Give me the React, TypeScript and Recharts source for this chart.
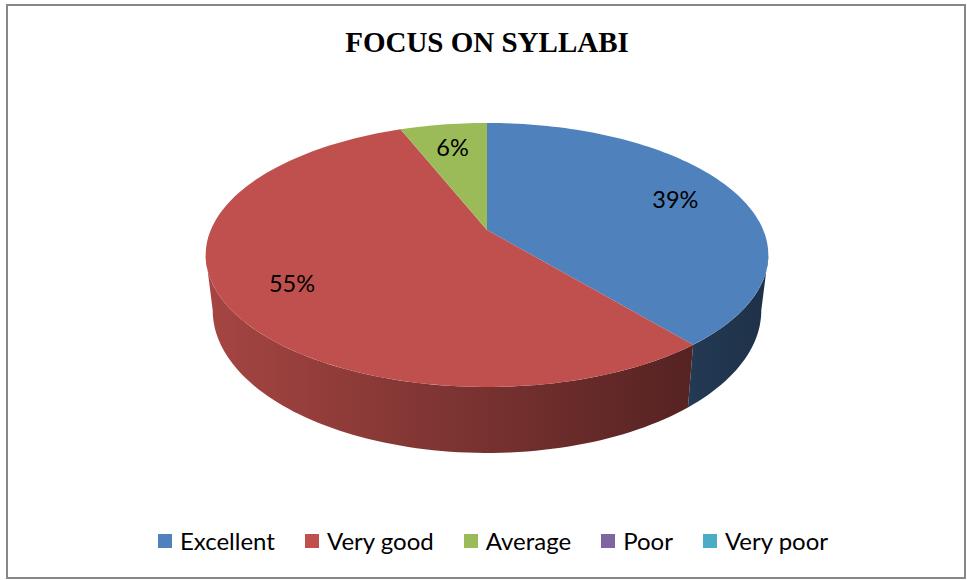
import { Legend, Pie, PieChart } from "recharts";

const categories = ["Excellent", "Very good", "Average", "Poor", "Very poor"];
const percentages = [39, 55, 6, 0, 0];
const colors = ["#4f81bd", "#c0504d", "#9bbb59", "#8064a2", "#4bacc6"];

const data = categories.map((name, i) => ({ name, value: percentages[i] }));

const W = 967;
const H = 580;

// 3d look: tilted disc seen in perspective
const ASPECT = 2.17;
const PERSPECTIVE = 0.189;
const DEPTH = 53.5;
const BOTTOM_SHRINK = 0.975;
const LABEL_R = 0.76;
const WALL_FROM = 90 + (Math.asin(PERSPECTIVE) * 180) / Math.PI;
const WALL_TO = 360 - WALL_FROM;

function shade(hex: string, f: number) {
  const n = parseInt(hex.slice(1), 16);
  const ch = [(n >> 16) & 255, (n >> 8) & 255, n & 255].map((c) =>
    Math.round(c * f)
  );
  return `rgb(${ch.join(",")})`;
}

// theta: degrees clockwise from 12 o'clock, r: 0..1 of the radius
function project(
  cx: number,
  cy: number,
  R: number,
  theta: number,
  r: number,
  bottom = false
) {
  const t = (theta * Math.PI) / 180;
  const u = r * Math.sin(t);
  const v = r * Math.cos(t);
  const w = 1 + PERSPECTIVE * v;
  const sx = bottom ? BOTTOM_SHRINK : 1;
  return [
    cx + (R * ASPECT * sx * u) / w,
    cy - (R * v) / w + (bottom ? DEPTH / w : 0),
  ];
}

function arc(
  cx: number,
  cy: number,
  R: number,
  a: number,
  b: number,
  bottom = false
) {
  const steps = Math.max(2, Math.ceil(Math.abs(b - a) / 1.5));
  const pts: number[][] = [];
  for (let i = 0; i <= steps; i++) {
    pts.push(project(cx, cy, R, a + ((b - a) * i) / steps, 1, bottom));
  }
  return pts;
}

const toPath = (pts: number[][]) =>
  pts.map((p, i) => `${i ? "L" : "M"}${p[0].toFixed(2)},${p[1].toFixed(2)}`).join("");

function SliceWithLabel(props: any) {
  const { cx, cy, outerRadius, startAngle, endAngle, index, value } = props;
  if (!value) return <g />;
  const t0 = 90 - startAngle;
  const t1 = 90 - endAngle;
  const color = colors[index];
  const gradId = `side-${index}`;

  const top = [[cx, cy], ...arc(cx, cy, outerRadius, t0, t1)];
  const a = Math.max(t0, WALL_FROM);
  const b = Math.min(t1, WALL_TO);
  const wall =
    a < b
      ? [
          ...arc(cx, cy, outerRadius, a, b),
          ...arc(cx, cy, outerRadius, b, a, true),
        ]
      : null;

  const mid = (t0 + t1) / 2;
  const [lx, ly] = project(cx, cy, outerRadius, mid, LABEL_R);

  return (
    <g>
      <defs>
        <linearGradient
          id={gradId}
          gradientUnits="userSpaceOnUse"
          x1={cx - outerRadius * ASPECT}
          x2={cx + outerRadius * ASPECT}
          y1={0}
          y2={0}
        >
          <stop offset="0" stopColor={shade(color, 0.86)} />
          <stop offset="1" stopColor={shade(color, 0.38)} />
        </linearGradient>
      </defs>
      {wall && <path d={toPath(wall) + "Z"} fill={`url(#${gradId})`} />}
      <path d={toPath(top) + "Z"} fill={color} />
      <text
        x={lx}
        y={ly}
        textAnchor="middle"
        dominantBaseline="central"
        fontFamily="Lato, sans-serif"
        fontSize={23.5}
        fill="#000"
      >
        {`${value}%`}
      </text>
    </g>
  );
}

function LegendRow() {
  return (
    <div
      style={{
        display: "flex",
        justifyContent: "center",
        gap: 30,
        paddingLeft: 19,
        fontFamily: "Lato, sans-serif",
        fontSize: 24,
        lineHeight: "28px",
        color: "#000",
      }}
    >
      {categories.map((c, i) => (
        <span key={c} style={{ display: "inline-flex", alignItems: "center", gap: 8 }}>
          <span style={{ width: 14, height: 14, background: colors[i], display: "inline-block" }} />
          {c}
        </span>
      ))}
    </div>
  );
}

export default function App() {
  return (
    <div
      style={{
        position: "fixed",
        left: 0,
        top: 0,
        width: W,
        height: H,
        background: "#fff",
      }}
    >
      <div
        style={{
          position: "absolute",
          left: 6,
          top: 4,
          width: 960,
          height: 575,
          border: "2px solid #878787",
          boxSizing: "border-box",
        }}
      />
      <div
        style={{
          position: "absolute",
          left: 0,
          top: 28,
          width: 974,
          textAlign: "center",
          fontFamily: "'Liberation Serif', serif",
          fontWeight: "bold",
          fontSize: 29,
          lineHeight: "29px",
        }}
      >
        FOCUS ON SYLLABI
      </div>
      <div style={{ position: "absolute", left: 0, top: 0 }}>
        <PieChart width={W} height={H} margin={{ top: 0, right: 0, bottom: 0, left: 0 }}>
          <Pie
            data={data}
            dataKey="value"
            nameKey="name"
            cx={487}
            cy={230}
            outerRadius={127.3}
            startAngle={90}
            endAngle={-270}
            fill="none"
            stroke="none"
            labelLine={false}
            label={SliceWithLabel}
            isAnimationActive={false}
          />
          <Legend
            content={() => <LegendRow />}
            wrapperStyle={{ position: "absolute", left: 0, top: 527, width: W }}
          />
        </PieChart>
      </div>
    </div>
  );
}
